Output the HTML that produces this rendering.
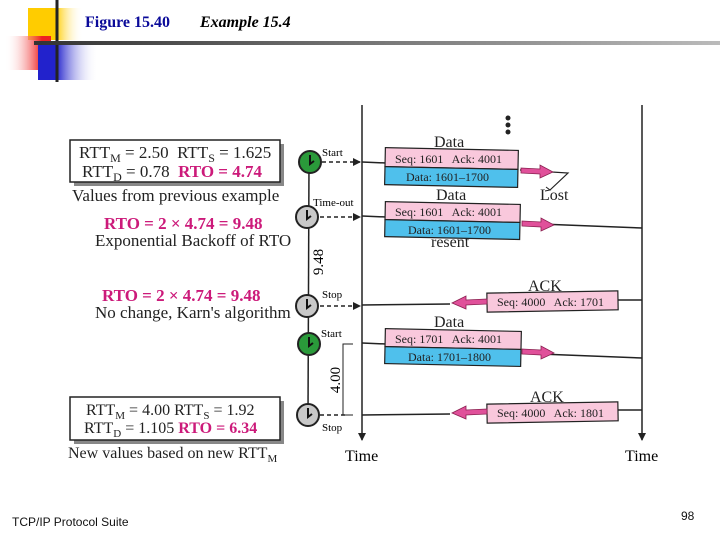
<!DOCTYPE html>
<html><head><meta charset="utf-8"><style>
html,body{margin:0;padding:0;background:#fff;}
svg{display:block;}
svg text{white-space:pre;}
</style></head><body>
<svg width="720" height="540" viewBox="0 0 720 540" xmlns="http://www.w3.org/2000/svg" font-family="Liberation Serif, serif" xml:space="preserve">
<defs>
<linearGradient id="hl" x1="0" x2="1" y1="0" y2="0"><stop offset="0" stop-color="#333"/><stop offset="1" stop-color="#bbb"/></linearGradient>
<linearGradient id="yl" x1="0" x2="1"><stop offset="0.5" stop-color="#ffcc00"/><stop offset="1" stop-color="#fff" stop-opacity="0"/></linearGradient>
<linearGradient id="rd" x1="1" x2="0"><stop offset="0.2" stop-color="#ee2222"/><stop offset="1" stop-color="#fff" stop-opacity="0"/></linearGradient>
<linearGradient id="bl" x1="0" x2="1"><stop offset="0.3" stop-color="#2222cc"/><stop offset="1" stop-color="#fff" stop-opacity="0"/></linearGradient>
<marker id="ah" markerWidth="8" markerHeight="8" refX="7" refY="4" orient="auto" markerUnits="userSpaceOnUse"><path d="M0,0 L8,4 L0,8 Z" fill="#222"/></marker>
</defs>
<rect x="28" y="8" width="55" height="32" fill="url(#yl)"/>
<rect x="5" y="36" width="46" height="34" fill="url(#rd)"/>
<rect x="38" y="45" width="60" height="35" fill="url(#bl)"/>
<line x1="57" y1="0" x2="57" y2="82" stroke="#222" stroke-width="3"/>
<rect x="34" y="41" width="686" height="4" fill="url(#hl)"/>
<text x="85" y="27" font-size="16" font-weight="bold" fill="#0a0a99">Figure 15.40</text>
<text x="200" y="27" font-size="16" font-weight="bold" font-style="italic" fill="#000">Example 15.4</text>

<line x1="362" y1="105" x2="362" y2="440" stroke="#222" stroke-width="1.5" marker-end="url(#ah)"/>
<line x1="642" y1="105" x2="642" y2="440" stroke="#222" stroke-width="1.5" marker-end="url(#ah)"/>
<text x="345" y="461" font-size="16">Time</text>
<text x="625" y="461" font-size="16">Time</text>
<circle cx="508" cy="118" r="2.5" fill="#222"/><circle cx="508" cy="125" r="2.5" fill="#222"/><circle cx="508" cy="132" r="2.5" fill="#222"/>

<line x1="309" y1="162" x2="308" y2="415" stroke="#222" stroke-width="1.5"/>
<g stroke="#222" stroke-width="1.5">
<line x1="322" y1="162" x2="360" y2="162" stroke-dasharray="4,3" marker-end="url(#ah)"/>
<line x1="320" y1="217" x2="360" y2="217" stroke-dasharray="4,3" marker-end="url(#ah)"/>
<line x1="320" y1="306" x2="360" y2="306" stroke-dasharray="4,3" marker-end="url(#ah)"/>
<line x1="320" y1="415" x2="345" y2="415" stroke-dasharray="4,3"/>
<polyline points="353,344 343,344 343,415 353,415" fill="none" stroke-width="1"/>
</g>
<g stroke="#222" stroke-width="2">
<circle cx="310" cy="162" r="11" fill="#2a9a3a"/>
<circle cx="307" cy="217" r="11" fill="#c8c8c8"/>
<circle cx="307" cy="306" r="11" fill="#c8c8c8"/>
<circle cx="309" cy="344" r="11" fill="#2a9a3a"/>
<circle cx="308" cy="415" r="11" fill="#c8c8c8"/>
</g>
<g stroke="#111" stroke-width="2" fill="none">
<polyline points="310,155 310,164 314,161"/>
<polyline points="307,210 307,219 311,216"/>
<polyline points="307,299 307,308 311,305"/>
<polyline points="309,337 309,346 313,343"/>
<polyline points="308,408 308,417 312,414"/>
</g>
<g font-size="11">
<text x="322" y="156">Start</text>
<text x="313" y="206">Time-out</text>
<text x="322" y="298">Stop</text>
<text x="321" y="337">Start</text>
<text x="322" y="431">Stop</text>
</g>
<text transform="translate(323,262) rotate(-90)" font-size="15" text-anchor="middle">9.48</text>
<text transform="translate(340,380) rotate(-90)" font-size="15" text-anchor="middle">4.00</text>

<g stroke="#222" stroke-width="1.5" fill="none">
<line x1="362" y1="162" x2="386" y2="163"/>
<line x1="362" y1="216" x2="386" y2="217"/>
<line x1="540" y1="224" x2="642" y2="228"/>
<line x1="642" y1="300" x2="618" y2="300"/>
<line x1="450" y1="304" x2="362" y2="305"/>
<line x1="362" y1="343" x2="386" y2="344"/>
<line x1="540" y1="354" x2="642" y2="358"/>
<line x1="642" y1="410" x2="618" y2="410"/>
<line x1="450" y1="414" x2="362" y2="415"/>
<polyline points="520,170 568,173 550,190" stroke-width="1.2"/>
</g>
<path d="M546,187 L550,190 L545,191" stroke="#222" fill="none"/>

<g stroke="#222" stroke-width="1.2">
<g transform="rotate(1.2 450 167)">
<rect x="385" y="149" width="133" height="19" fill="#f9c8dc"/>
<rect x="385" y="168" width="133" height="18" fill="#4fc0ec"/>
</g>
<g transform="rotate(1.2 450 221)">
<rect x="385" y="203" width="135" height="18" fill="#f9c8dc"/>
<rect x="385" y="221" width="135" height="17" fill="#4fc0ec"/>
</g>
<g transform="rotate(-1 552 301)"><rect x="487" y="292" width="131" height="19" fill="#f9c8dc"/></g>
<g transform="rotate(1.2 452 348)">
<rect x="385" y="330" width="136" height="18" fill="#f9c8dc"/>
<rect x="385" y="348" width="136" height="17" fill="#4fc0ec"/>
</g>
<g transform="rotate(-1 552 412)"><rect x="487" y="403" width="131" height="19" fill="#f9c8dc"/></g>
</g>
<g font-size="12" fill="#222">
<text x="395" y="163">Seq: 1601   Ack: 4001</text>
<text x="406" y="181">Data: 1601–1700</text>
<text x="395" y="216">Seq: 1601   Ack: 4001</text>
<text x="408" y="234">Data: 1601–1700</text>
<text x="497" y="306">Seq: 4000   Ack: 1701</text>
<text x="395" y="343">Seq: 1701   Ack: 4001</text>
<text x="408" y="361">Data: 1701–1800</text>
<text x="497" y="417">Seq: 4000   Ack: 1801</text>
</g>
<g font-size="16" fill="#222">
<text x="434" y="147">Data</text>
<text x="436" y="200">Data</text>
<text x="431" y="247">resent</text>
<text x="540" y="200">Lost</text>
<text x="528" y="291">ACK</text>
<text x="434" y="327">Data</text>
<text x="530" y="402">ACK</text>
</g>
<g fill="#e0509a" stroke="#8a2050" stroke-width="0.8">
<path d="M521,168 L540,169 L540,165 L553,172 L540,178 L540,174 L521,173 Z"/>
<path d="M522,221 L541,222 L541,218 L554,225 L541,231 L541,227 L522,226 Z"/>
<path d="M487,299 L466,300 L466,296 L452,303 L466,309 L466,305 L487,304 Z"/>
<path d="M522,349 L541,350 L541,346 L554,353 L541,359 L541,355 L522,354 Z"/>
<path d="M487,409 L466,410 L466,406 L452,413 L466,419 L466,415 L487,414 Z"/>
</g>

<rect x="74" y="144" width="210" height="42" fill="#888"/>
<rect x="70" y="140" width="210" height="42" fill="#fff" stroke="#222" stroke-width="1.5"/>
<g font-size="17" fill="#222">
<text x="79" y="158">RTT<tspan font-size="12" dy="4">M</tspan><tspan dy="-4"> = 2.50  RTT</tspan><tspan font-size="12" dy="4">S</tspan><tspan dy="-4"> = 1.625</tspan></text>
<text x="82" y="177">RTT<tspan font-size="12" dy="4">D</tspan><tspan dy="-4"> = 0.78  </tspan><tspan fill="#cc1a7a" font-weight="bold">RTO = 4.74</tspan></text>
<text x="72" y="201">Values from previous example</text>
<text x="104" y="229" fill="#cc1a7a" font-weight="bold">RTO = 2 × 4.74 = 9.48</text>
<text x="95" y="246">Exponential Backoff of RTO</text>
<text x="102" y="301" fill="#cc1a7a" font-weight="bold">RTO = 2 × 4.74 = 9.48</text>
<text x="95" y="318">No change, Karn's algorithm</text>
</g>
<rect x="74" y="401" width="210" height="43" fill="#888"/>
<rect x="70" y="397" width="210" height="43" fill="#fff" stroke="#222" stroke-width="1.5"/>
<g font-size="16" fill="#222">
<text x="86" y="415">RTT<tspan font-size="11" dy="4">M</tspan><tspan dy="-4"> = 4.00 RTT</tspan><tspan font-size="11" dy="4">S</tspan><tspan dy="-4"> = 1.92</tspan></text>
<text x="84" y="433">RTT<tspan font-size="11" dy="4">D</tspan><tspan dy="-4"> = 1.105 </tspan><tspan fill="#cc1a7a" font-weight="bold">RTO = 6.34</tspan></text>
<text x="68" y="458">New values based on new RTT<tspan font-size="11" dy="4">M</tspan></text>
</g>

<text x="12" y="526" font-size="12" font-family="Liberation Sans, sans-serif" fill="#111">TCP/IP Protocol Suite</text>
<text x="681" y="520" font-size="12" font-family="Liberation Sans, sans-serif" fill="#111">98</text>
</svg>
</body></html>
